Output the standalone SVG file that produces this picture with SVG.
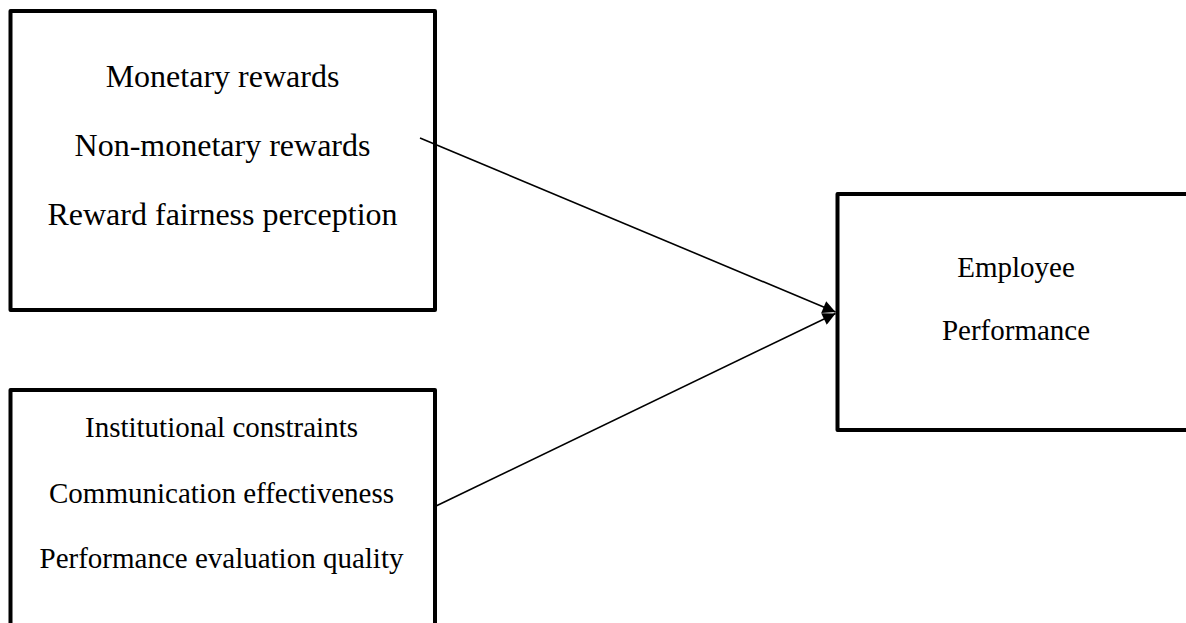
<svg xmlns="http://www.w3.org/2000/svg" width="1186" height="623" viewBox="0 0 1186 623">
<style>
.box{fill:#fff;stroke:#000;stroke-width:4;stroke-linejoin:round}
.t{font-family:"Liberation Serif","Times New Roman",serif;fill:#000;text-anchor:middle}
.conn{stroke:#000;stroke-width:1.6;fill:none}
</style>
<defs>
<marker id="ah" viewBox="0 0 10 10" refX="10" refY="5" markerWidth="9" markerHeight="8" markerUnits="strokeWidth" orient="auto">
<path d="M0,0 L10,5 L0,10 z" fill="#000"/>
</marker>
</defs>
<g id="node-rewards">
<rect class="box" x="10.5" y="11" width="424.5" height="299"/>
<text class="t" x="222.5" y="86.5" font-size="32">Monetary rewards</text>
<text class="t" x="222.5" y="155.5" font-size="32">Non-monetary rewards</text>
<text class="t" x="222.5" y="225" font-size="32">Reward fairness perception</text>
</g>
<g id="node-institutional">
<rect class="box" x="10.5" y="390" width="424.5" height="260"/>
<text class="t" x="221.5" y="436.5" font-size="29">Institutional constraints</text>
<text class="t" x="221.5" y="503" font-size="29">Communication effectiveness</text>
<text class="t" x="221.5" y="568" font-size="29">Performance evaluation quality</text>
</g>
<g id="node-performance">
<rect class="box" x="837.5" y="194" width="400" height="236"/>
<text class="t" x="1016" y="276.5" font-size="29">Employee</text>
<text class="t" x="1016" y="340" font-size="29">Performance</text>
</g>
<g id="connectors">
<line class="conn" x1="420" y1="138" x2="835.5" y2="312" marker-end="url(#ah)"/>
<line class="conn" x1="435" y1="506.5" x2="835.5" y2="313.5" marker-end="url(#ah)"/>
</g>
</svg>
